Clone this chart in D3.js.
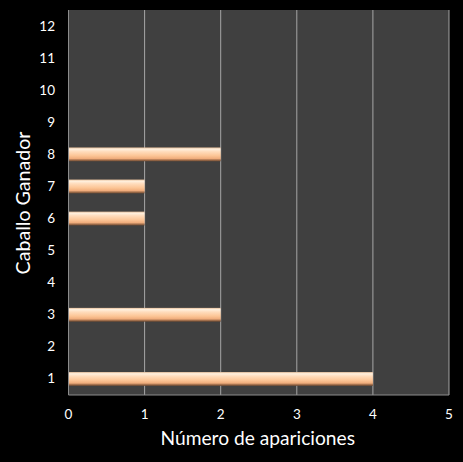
<!DOCTYPE html>
<html>
<head>
<meta charset="utf-8">
<script src="https://cdn.jsdelivr.net/npm/d3@7"></script>
<style>
  html, body { margin: 0; padding: 0; background: #000; }
  svg { display: block; }
</style>
</head>
<body>
<svg width="463" height="462"></svg>
<script>
const caballos = ["1", "2", "3", "4", "5", "6", "7", "8", "9", "10", "11", "12"];
const apariciones = [4, 0, 2, 0, 0, 1, 1, 2, 0, 0, 0, 0];
const xTicks = [0, 1, 2, 3, 4, 5];

const svg = d3.select("svg");
const plotLeft = 68.5, plotRight = 449, plotTop = 10, plotBottom = 395;
const font = "Lato, 'Open Sans', sans-serif";

svg.append("rect").attr("width", 463).attr("height", 462).attr("fill", "#000");

// gradient for the bars
const grad = svg.append("defs").append("linearGradient")
  .attr("id", "barGrad").attr("x1", 0).attr("y1", 0).attr("x2", 0).attr("y2", 1);
[[0, "#e8c09c"], [0.12, "#fff0de"], [0.3, "#ffdcbc"], [0.6, "#fcc596"],
 [0.8, "#f0ad7c"], [0.9, "#a87450"], [1, "#6e4a32"]].forEach(s =>
{
  grad.append("stop").attr("offset", s[0]).attr("stop-color", s[1]);
});

const x = d3.scaleLinear().domain([0, 5]).range([plotLeft, plotRight]);
const y = d3.scaleBand().domain(caballos).range([plotBottom, plotTop]).paddingInner(0.57).paddingOuter(0.285);
const yStep = d3.scaleBand().domain(caballos).range([plotBottom, plotTop]);

svg.append("rect")
  .attr("x", plotLeft).attr("y", plotTop)
  .attr("width", plotRight - plotLeft).attr("height", plotBottom - plotTop)
  .attr("fill", "#404040");

// grid lines
svg.append("g").selectAll("line")
  .data(xTicks.slice(1))
  .join("line")
  .attr("x1", d => x(d)).attr("x2", d => x(d))
  .attr("y1", plotTop).attr("y2", plotBottom)
  .attr("stroke", "#a6a6a6").attr("stroke-width", 1);

// bars
svg.append("g").selectAll("rect")
  .data(caballos.map((c, i) => ({ c: c, v: apariciones[i] })).filter(d => d.v > 0))
  .join("rect")
  .attr("x", x(0))
  .attr("y", d => y(d.c))
  .attr("width", d => x(d.v) - x(0))
  .attr("height", y.bandwidth())
  .attr("fill", "url(#barGrad)");

// axis lines
svg.append("line").attr("x1", plotLeft).attr("x2", plotLeft).attr("y1", plotTop).attr("y2", plotBottom)
  .attr("stroke", "#8c8c8c");
svg.append("line").attr("x1", plotLeft).attr("x2", plotRight).attr("y1", plotBottom).attr("y2", plotBottom)
  .attr("stroke", "#8c8c8c");

// x tick labels
svg.append("g").selectAll("text")
  .data(xTicks)
  .join("text")
  .attr("x", d => x(d))
  .attr("y", 419)
  .attr("text-anchor", "middle")
  .attr("fill", "#fff")
  .attr("font-family", font)
  .attr("font-size", 13.5)
  .text(d => d);

// y tick labels
svg.append("g").selectAll("text")
  .data(caballos)
  .join("text")
  .attr("x", 55)
  .attr("y", d => yStep(d) + yStep.bandwidth() / 2 + 4.5)
  .attr("text-anchor", "end")
  .attr("fill", "#fff")
  .attr("font-family", font)
  .attr("font-size", 13.5)
  .text(d => d);

svg.append("text")
  .attr("x", (plotLeft + plotRight) / 2 - 1)
  .attr("y", 445)
  .attr("text-anchor", "middle")
  .attr("fill", "#fff")
  .attr("font-family", font)
  .attr("font-size", 19.2)
  .text("Número de apariciones");

svg.append("text")
  .attr("transform", "translate(29.5, 203) rotate(-90)")
  .attr("text-anchor", "middle")
  .attr("fill", "#fff")
  .attr("font-family", font)
  .attr("font-size", 19.6)
  .text("Caballo Ganador");
</script>
</body>
</html>
